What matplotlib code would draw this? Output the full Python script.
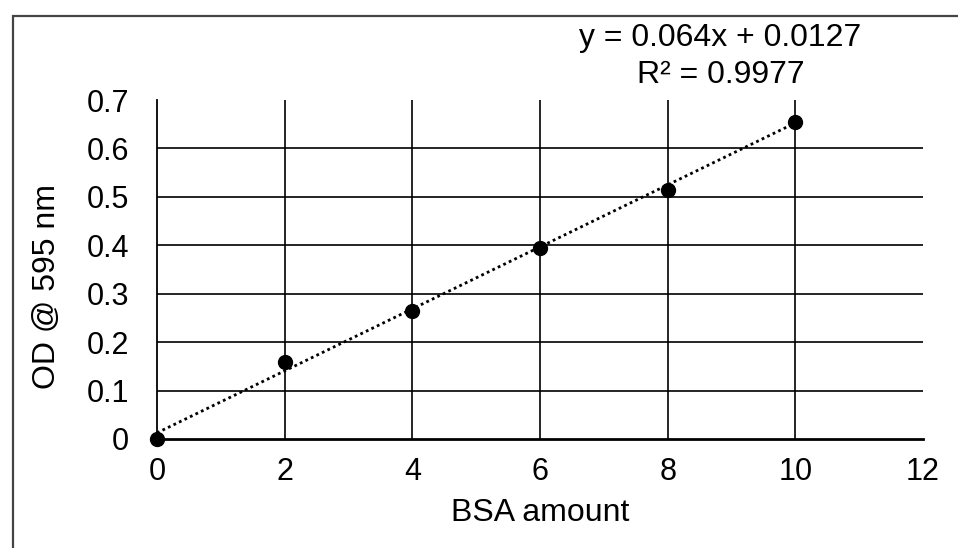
import matplotlib
matplotlib.use("Agg")
import matplotlib.pyplot as plt
from matplotlib.patches import Rectangle
import numpy as np

plt.rcParams['font.family'] = ['Liberation Sans', 'DejaVu Sans']

bsa = [0, 2, 4, 6, 8, 10]
od = [0.0, 0.16, 0.265, 0.395, 0.515, 0.655]
slope = 0.064
intercept = 0.0127
r2_text = "R² = 0.9977"
eq_text = "y = 0.064x + 0.0127"
xticks = [0, 2, 4, 6, 8, 10, 12]
yticks = [0, 0.1, 0.2, 0.3, 0.4, 0.5, 0.6, 0.7]
ytick_labels = ["0", "0.1", "0.2", "0.3", "0.4", "0.5", "0.6", "0.7"]

W, H = 958, 548
fig = plt.figure(figsize=(W / 100, H / 100), dpi=100)

# outer border (cropped chart frame)
fig.patches.append(Rectangle((13 / W, -0.1), 1.2, (H - 16) / H + 0.1,
                             transform=fig.transFigure, fill=False,
                             edgecolor='#444444', linewidth=1.6))

ax = fig.add_axes([157 / W, 1 - 439 / H, (923 - 157) / W, (439 - 100) / H])
ax.set_xlim(0, 12)
ax.set_ylim(0, 0.7)
ax.set_xticks(xticks)
ax.set_yticks(yticks)
ax.set_yticklabels(ytick_labels)

for s in ['top', 'right']:
    ax.spines[s].set_visible(False)
ax.spines['left'].set_linewidth(1.3)
ax.spines['bottom'].set_linewidth(2.0)

ax.grid(True, color='black', linewidth=1.2)
ax.set_axisbelow(True)
ax.yaxis.get_gridlines()[-1].set_visible(False)
ax.xaxis.get_gridlines()[-1].set_visible(False)
ax.xaxis.get_gridlines()[0].set_visible(False)
ax.yaxis.get_gridlines()[0].set_visible(False)

ax.tick_params(axis='both', length=0, labelsize=22)
ax.tick_params(axis='y', pad=20)
ax.tick_params(axis='x', pad=13)

xs = np.array([0, 10])
ax.plot(xs, slope * xs + intercept, linestyle=(0, (1, 1.2)), color='black',
        linewidth=2.0, zorder=3)
ax.plot(bsa, od, 'o', color='black', markersize=10, zorder=4, clip_on=False)

ax.set_xlabel("BSA amount", fontsize=23)
ax.xaxis.set_label_coords(0.5, -0.175)
ax.set_ylabel("OD @ 595 nm", fontsize=23)
ax.yaxis.set_label_coords(-0.124, 0.45)

fig.text(720 / W, 1 - 38 / H, eq_text, fontsize=23, ha='center', va='center')
fig.text(721 / W, 1 - 75 / H, r2_text, fontsize=23, ha='center', va='center')

fig.savefig("out.png", dpi=100, facecolor='white')
